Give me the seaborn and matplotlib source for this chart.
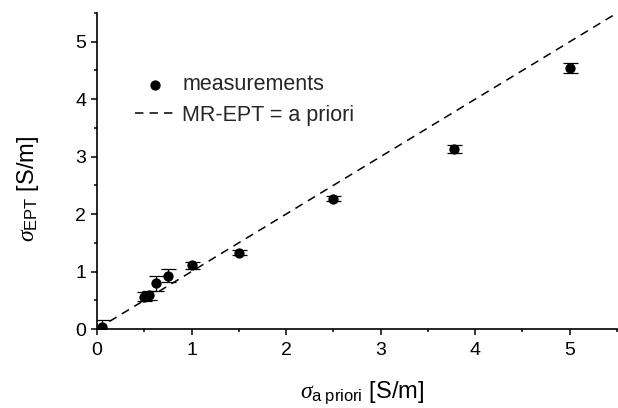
import matplotlib
matplotlib.use("Agg")
import matplotlib.pyplot as plt
import seaborn as sns
import numpy as np
import pandas as pd
from matplotlib.ticker import MultipleLocator

# ---- data ----
sigma_apriori = [0.05, 0.50, 0.55, 0.62, 0.75, 1.00, 1.50, 2.50, 3.78, 5.00]
sigma_ept = [0.03, 0.565, 0.59, 0.80, 0.93, 1.11, 1.33, 2.27, 3.13, 4.54]
sigma_err = [0.13, 0.08, 0.08, 0.13, 0.11, 0.06, 0.05, 0.05, 0.07, 0.085]
line_x = [0.0, 5.5]
line_y = [0.0, 5.5]
x_ticks = [0, 1, 2, 3, 4, 5]
y_ticks = [0, 1, 2, 3, 4, 5]

sns.set_theme(style="ticks")
plt.rcParams['font.family'] = ['Liberation Sans', 'DejaVu Sans']
plt.rcParams['mathtext.fontset'] = 'custom'
plt.rcParams['mathtext.rm'] = 'Liberation Sans'
plt.rcParams['mathtext.it'] = 'Liberation Serif:italic'
plt.rcParams['mathtext.bf'] = 'Liberation Sans:bold'

fig = plt.figure(figsize=(6.18, 4.08), dpi=100)
ax = fig.add_axes([97/618, 79/408, 520/618, 316/408])

meas = pd.DataFrame({"x": sigma_apriori, "y": sigma_ept})
ref = pd.DataFrame({"x": line_x, "y": line_y})

sns.lineplot(data=ref, x="x", y="y", ax=ax, color="black", lw=1.1,
             dashes=False, label="MR-EPT = a priori", zorder=2)
ax.lines[-1].set_dashes((5.5, 4))
ax.errorbar(sigma_apriori, sigma_ept, yerr=sigma_err, fmt='none',
            ecolor='black', elinewidth=0.9, capsize=5.4, capthick=0.9, zorder=3)
sns.scatterplot(data=meas, x="x", y="y", ax=ax, color="black", s=55,
                edgecolor="black", linewidth=0, label="measurements", zorder=4)

ax.set_xlim(0, 5.5)
ax.set_ylim(0, 5.5)
ax.set_xticks(x_ticks)
ax.set_yticks(y_ticks)
ax.xaxis.set_minor_locator(MultipleLocator(0.5))
ax.yaxis.set_minor_locator(MultipleLocator(0.5))
ax.tick_params(which='major', direction='out', length=4.3, width=1.1,
               labelsize=14, color='black', labelcolor='black', pad=3.5)
ax.tick_params(axis='x', which='major', pad=5)
ax.tick_params(which='minor', direction='out', length=2.4, width=1.1, color='black')
for s in ['top', 'right']:
    ax.spines[s].set_visible(False)
for s in ['left', 'bottom']:
    ax.spines[s].set_linewidth(1.2)
    ax.spines[s].set_color('black')

ax.set_xlabel(r'$\sigma_{\mathrm{a\ priori}}$ [S/m]', fontsize=17, color='black')
ax.set_ylabel(r'$\sigma_{\mathrm{EPT}}$ [S/m]', fontsize=17, color='black')
ax.xaxis.set_label_coords(0.51, -0.16)
ax.yaxis.set_label_coords(-0.108, 0.443)

handles, labels = ax.get_legend_handles_labels()
order = [labels.index("measurements"), labels.index("MR-EPT = a priori")]
ax.legend([handles[i] for i in order], [labels[i] for i in order],
          loc='upper left', bbox_to_anchor=(0.073, 0.806), frameon=False,
          fontsize=15.5, handlelength=1.86, handletextpad=0.33,
          labelspacing=0.45, borderpad=0, borderaxespad=0)

fig.savefig("out.png", dpi=100)
